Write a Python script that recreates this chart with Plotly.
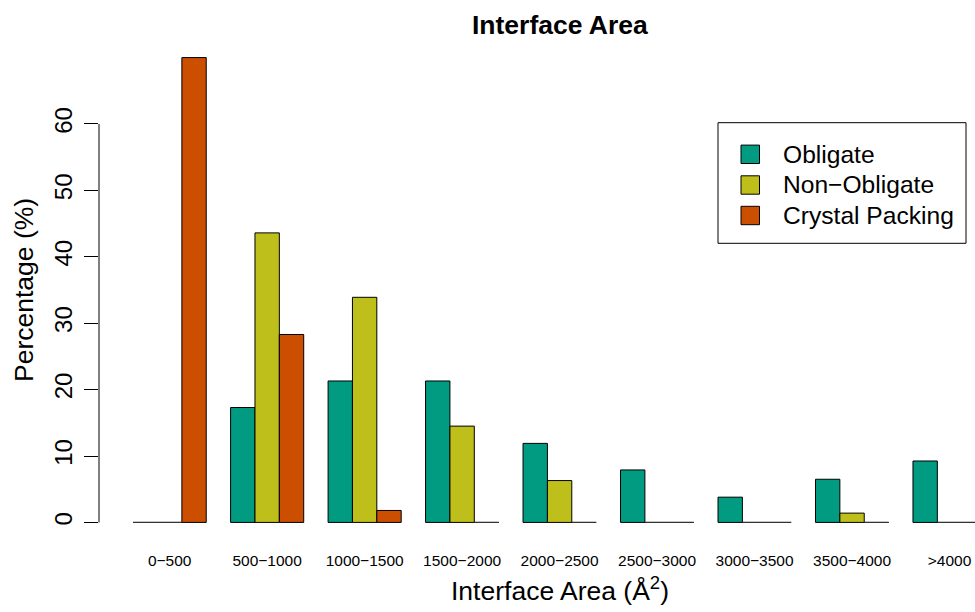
import plotly.graph_objects as go

# ---- data ----
categories = ["0\u2212500", "500\u22121000", "1000\u22121500", "1500\u22122000", "2000\u22122500",
              "2500\u22123000", "3000\u22123500", "3500\u22124000", ">4000"]
series_names = ["Obligate", "Non\u2212Obligate", "Crystal Packing"]
obligate = [0, 17.3, 21.3, 21.3, 11.9, 7.9, 3.8, 6.5, 9.25]
non_obligate = [0, 43.6, 33.9, 14.5, 6.3, 0, 0, 1.4, 0]
crystal_packing = [70.0, 28.3, 1.8, 0, 0, 0, 0, 0, 0]
y_ticks = [0, 10, 20, 30, 40, 50, 60]

colors = ["#009B80", "#BFBF1C", "#CC4E00"]
FONT = "Liberation Sans, Arial, Helvetica, sans-serif"

W, H = 975, 612
ML, MR, MT, MB = 99, 0, 39, 71
PW, PH = W - ML - MR, H - MT - MB


def px_x(p):
    return (p - ML) / PW


def px_y(p):
    return (H - MB - p) / PH


series = [obligate, non_obligate, crystal_packing]
xpos = list(range(len(categories)))
n_series = len(series)
bargap = 0.25
bar_w = (1 - bargap) / n_series

fig = go.Figure()
for name, vals, col in zip(series_names, series, colors):
    fig.add_trace(go.Bar(
        x=xpos, y=vals, name=name,
        marker=dict(color=col, line=dict(color="black", width=1)),
        showlegend=False,
    ))

# zero-height bars drawn as flat outlines (as R's barplot does)
zx, zy = [], []
for k, vals in enumerate(series):
    off = (k - (n_series - 1) / 2) * bar_w
    for i, v in enumerate(vals):
        if v == 0:
            zx += [i + off - bar_w / 2, i + off + bar_w / 2, None]
            zy += [0, 0, None]
fig.add_trace(go.Scatter(x=zx, y=zy, mode="lines", line=dict(color="#3a3a3a", width=1),
                         hoverinfo="skip", showlegend=False))

ymax = max(max(s) for s in series)
ypad = 0.04 * ymax
n = len(categories)
# R barplot: group period 4 units (3 bars + 1 space); plot spans 35 units +4% each side
r_units = n * 4 - 1
r_span = r_units * 1.08
px_per_cat = 921.2 / r_span * 4
x0 = -0.725
x1 = x0 + PW / px_per_cat

fig.update_layout(
    width=W, height=H,
    margin=dict(l=ML, r=MR, t=MT, b=MB, pad=0),
    paper_bgcolor="white", plot_bgcolor="white",
    barmode="group", bargap=bargap, bargroupgap=0,
    font=dict(family=FONT, color="black"),
    xaxis=dict(range=[x0, x1], tickvals=xpos, ticktext=categories, showgrid=False,
               zeroline=False, showline=False, ticks="", tickfont=dict(size=15.5),
               ticklabelstandoff=8),
    yaxis=dict(range=[-ypad, ymax + ypad], tickvals=y_ticks, showgrid=False, zeroline=False,
               showline=False, ticks="outside", ticklen=14, tickwidth=1, tickcolor="black",
               tickangle=-90, tickfont=dict(size=24), ticklabelstandoff=2),
    showlegend=False,
)

# y axis line (R draws it only over the tick range)
fig.add_shape(type="line", xref="paper", yref="y", x0=0, x1=0, y0=y_ticks[0], y1=y_ticks[-1],
              line=dict(color="black", width=1))

mid = (n - 1) / 2
fig.add_annotation(text="<b>Interface Area</b>", xref="x", yref="paper", x=mid, y=px_y(25),
                   xanchor="center", yanchor="middle", showarrow=False, font=dict(size=26.5))
fig.add_annotation(text="Interface Area (\u00c5<sup>2</sup>)", xref="x", yref="paper", x=mid,
                   y=px_y(589), xanchor="center", yanchor="middle", showarrow=False,
                   font=dict(size=26.5))
fig.add_annotation(text="Percentage (%)", xref="paper", yref="paper", x=px_x(24), y=0.5,
                   xanchor="center", yanchor="middle", textangle=-90, showarrow=False,
                   font=dict(size=26.5))

# legend box (R style)
fig.add_shape(type="rect", xref="paper", yref="paper", x0=px_x(718), x1=px_x(966),
              y0=px_y(243.3), y1=px_y(122.7), line=dict(color="black", width=1),
              fillcolor="white", layer="above")
row_y = [154.3, 185.0, 215.5]
for name, col, ry in zip(series_names, colors, row_y):
    fig.add_shape(type="rect", xref="paper", yref="paper", x0=px_x(741), x1=px_x(759.5),
                  y0=px_y(ry + 9.2), y1=px_y(ry - 9.2), line=dict(color="black", width=1),
                  fillcolor=col, layer="above")
    fig.add_annotation(text=name, xref="paper", yref="paper", x=px_x(781), y=px_y(ry),
                       xanchor="left", yanchor="middle", showarrow=False, font=dict(size=24.6))

fig.write_html("out.html", config={"displayModeBar": False},
               post_script="document.body.style.margin='0';"
               "document.body.style.overflow='hidden';")
